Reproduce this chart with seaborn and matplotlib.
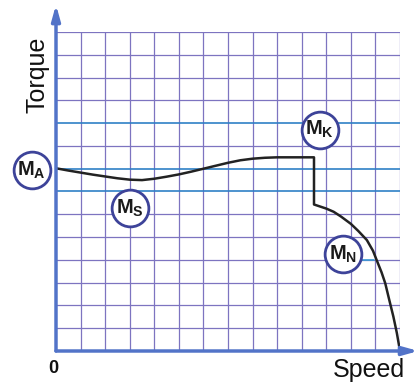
import numpy as np
import pandas as pd
import matplotlib
matplotlib.use("Agg")
import matplotlib.pyplot as plt
import seaborn as sns

# torque-speed curve (grid units, 14 x 14 cells)
speed = [0, 0.5, 1, 1.5, 2, 2.5, 3, 3.5, 4, 4.5, 5, 5.5, 6, 6.5, 7, 7.5, 8, 8.5, 9, 9.5, 10, 10.5,
         10.5, 11.0, 11.3, 11.6, 12.0, 12.3, 12.65, 12.9, 13.05, 13.25, 13.4, 13.55, 13.73, 13.87, 14]
torque = [8.02, 7.92, 7.83, 7.74, 7.66, 7.58, 7.52, 7.50, 7.56, 7.65, 7.75, 7.87, 8.0, 8.13, 8.26, 8.37, 8.44, 8.48, 8.5, 8.5, 8.5, 8.5,
          6.43, 6.25, 6.11, 5.9, 5.58, 5.27, 4.87, 4.4, 3.99, 3.45, 2.97, 2.3, 1.51, 0.8, 0]

# labelled points
label_sub = ["A", "S", "K", "N"]
label_x = [-0.99, 3.01, 10.74, 11.67]
label_y = [7.94, 6.27, 9.71, 4.26]

blue_levels = [10, 8, 7]

df = pd.DataFrame({"speed": speed, "torque": torque})

sns.set_style("white")
plt.rcParams["font.family"] = ["Liberation Sans", "DejaVu Sans"]
plt.rcParams["mathtext.fontset"] = "custom"
plt.rcParams["mathtext.bf"] = "Liberation Sans:bold"
plt.rcParams["mathtext.rm"] = "Liberation Sans"

fig = plt.figure(figsize=(4.18, 3.85), dpi=100)
ax = fig.add_axes([56 / 418, 34 / 385, 344 / 418, 319 / 385])
ax.set_xlim(0, 14)
ax.set_ylim(0, 14)

grid_col = "#7d74c0"
for i in range(1, 15):
    ax.axvline(i, color=grid_col, lw=0.9, zorder=1)
for j in range(1, 15):
    if j in blue_levels:
        continue
    ax.axhline(j, color=grid_col, lw=0.9, zorder=1)
for j in blue_levels:
    ax.axhline(j, color="#2f80c6", lw=1.2, zorder=2)
# short blue mark next to M_N
ax.plot([12.35, 12.95], [4, 4], color="#3a9ad6", lw=1.2, zorder=2)

sns.lineplot(data=df, x="speed", y="torque", sort=False, estimator=None,
             color="#222222", lw=1.8, ax=ax, zorder=4)

for s in ax.spines.values():
    s.set_visible(False)
ax.set_xticks([])
ax.set_yticks([])
ax.set_xlabel("")
ax.set_ylabel("")

axis_col = "#5273c8"
ax.annotate("", xy=(0, 15.2), xytext=(0, 0), xycoords="data",
            arrowprops=dict(arrowstyle="-|>,head_length=0.9,head_width=0.25",
                            color=axis_col, lw=2.5, shrinkA=0, shrinkB=0),
            annotation_clip=False, zorder=5)
ax.annotate("", xy=(14.75, 0), xytext=(0, 0), xycoords="data",
            arrowprops=dict(arrowstyle="-|>,head_length=0.9,head_width=0.25",
                            color=axis_col, lw=2.5, shrinkA=0, shrinkB=0),
            annotation_clip=False, zorder=5)

ax.scatter(label_x, label_y, s=700, facecolor="white", edgecolor="#3d4399",
           linewidths=2, clip_on=False, zorder=6)
for sub, x, y in zip(label_sub, label_x, label_y):
    ax.text(x, y, r"$\mathbf{M}_{\mathbf{%s}}$" % sub, ha="center", va="center",
            fontsize=14.5, color="#1a1a1a", zorder=7)

ax.text(-0.77, 12.13, "Torque", rotation=90, ha="center", va="center",
        fontsize=18, color="#111111")
ax.text(12.74, -0.82, "Speed", ha="center", va="center", fontsize=18, color="#111111")
ax.text(-0.12, -0.75, "0", ha="center", va="center", fontsize=13,
        fontweight="bold", color="#111111")

fig.savefig("out.png", dpi=100)
